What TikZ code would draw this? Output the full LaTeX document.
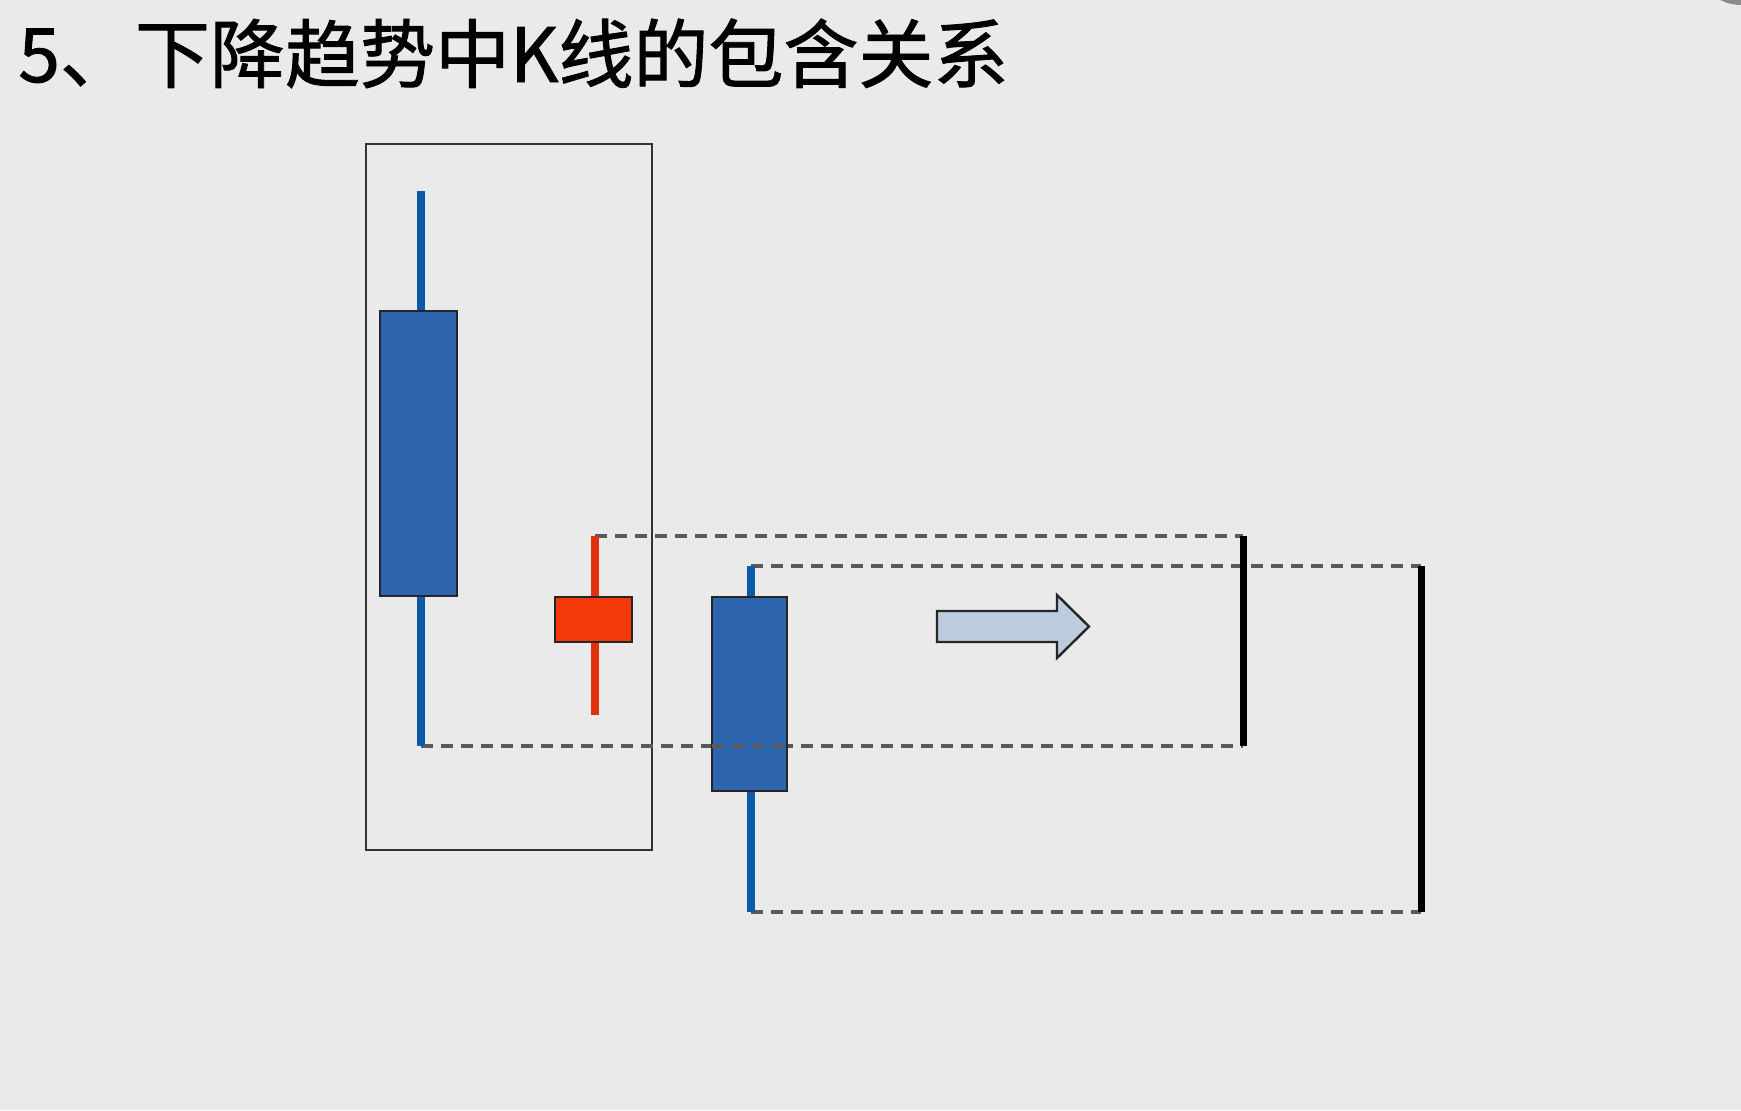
\documentclass[tikz,border=0pt]{standalone}
\usepackage{fontspec}
\newfontfamily\cjk[FakeBold=1.2]{Noto Sans CJK SC}
\definecolor{bgc}{HTML}{EAEAEA}
\definecolor{bluebody}{HTML}{2C64AE}
\definecolor{bluewick}{HTML}{0B5BA8}
\definecolor{redbody}{HTML}{F5380A}
\definecolor{redwick}{HTML}{E0320C}
\definecolor{arrowfill}{HTML}{BCCBDD}
\definecolor{dashc}{HTML}{5A5A5A}
\tikzset{
  px/.style={x=0.5pt,y=-0.5pt},
  wickblue/.style={draw=bluewick,line width=4pt},
  wickred/.style={draw=redwick,line width=4.3pt},
  bodyblue/.style={fill=bluebody,draw=black!85,line width=1.2pt},
  bodyred/.style={fill=redbody,draw=black!85,line width=1.2pt},
  dashline/.style={draw=dashc,line width=2pt,dash pattern=on 6pt off 4pt},
  thickbar/.style={draw=black,line width=3.5pt},
  frameline/.style={draw=black!80,line width=1.3pt}
}
\begin{document}
\begin{tikzpicture}[px]
\fill[bgc] (0,0) rectangle (1741,1110);
\useasboundingbox (0,0) rectangle (1741,1110);
% corner shape
\fill[black!45] (1741,-40) circle (45);
% title
\node[anchor=base west,inner sep=0pt,font=\cjk\fontsize{37.5pt}{40pt}\selectfont] (title) at (18,82) {5、下降趋势中K线的包含关系};
% frame
\draw[frameline] (366,144) rectangle (652,850);
% coordinates
\coordinate (h1) at (421,191);
\coordinate (l1) at (421,746);
\coordinate (h2) at (595,536);
\coordinate (l2) at (595,715);
\coordinate (h3) at (751,566);
\coordinate (l3) at (751,912);
\coordinate (r1t) at (1243,536);
\coordinate (r1b) at (1243,746);
\coordinate (r2t) at (1421,566);
\coordinate (r2b) at (1421,912);
% dashed range boxes
\draw[dashline] (h2) -- (r1t);
\draw[dashline] (l1) -- (r1b);
\draw[dashline] (h3) -- (r2t);
\draw[dashline] (l3) -- (r2b);
% candle 1
\draw[wickblue] (h1) -- (l1);
\draw[bodyblue] (380,311) rectangle (457,596);
% candle 2
\draw[wickred] (h2) -- (l2);
\draw[bodyred] (555,597) rectangle (632,642);
% candle 3
\draw[wickblue] (h3) -- (l3);
\draw[bodyblue] (712,597) rectangle (787,791);
\draw[dashline] (712,746) -- (787,746);
% range bars
\draw[thickbar] (r1t) -- (r1b);
\draw[thickbar] (r2t) -- (r2b);
% arrow
\draw[fill=arrowfill,draw=black!85,line width=1.2pt,line join=miter]
  (937,611) -- (1057,611) -- (1057,595) -- (1089,626.5) -- (1057,658) -- (1057,642) -- (937,642) -- cycle;
\end{tikzpicture}
\end{document}
